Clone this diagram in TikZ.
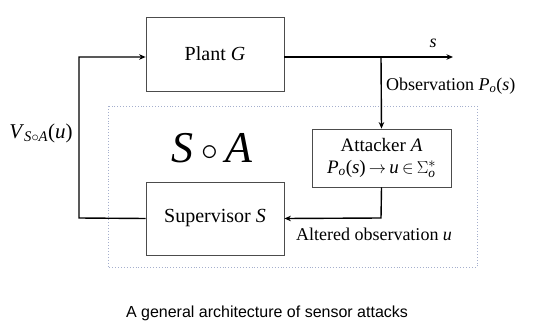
\documentclass[tikz,border=0pt]{standalone}
\usepackage{amsmath}
\usepackage{fontspec}
\setmainfont{Liberation Serif}
\newfontfamily\capfont{Liberation Sans}
\usetikzlibrary{arrows.meta,positioning,calc}
\definecolor{dotblue}{RGB}{165,175,205}
\begin{document}
\begin{tikzpicture}[x=1pt,y=-1pt,
  blockbox/.style={draw=black!70,line width=0.8pt,minimum width=138pt,inner sep=0pt,font=\fontsize{20}{22}\selectfont},
  conn/.style={line width=1.4pt,-{Stealth[length=6.5pt,width=5.5pt]}},
  lab/.style={inner sep=0pt,font=\fontsize{18}{20}\selectfont}]
\useasboundingbox (0,0) rectangle (534,334);
% dotted region
\draw[draw=dotblue,line width=0.9pt,dotted] (108,106) rectangle (477,267);
\node[blockbox,minimum height=74pt] (plant) at (215,54) {Plant \textit{G}};
\node[blockbox,minimum width=139pt,minimum height=58pt,align=center,font=\fontsize{19}{22}\selectfont] (att) at (381.5,158)
  {Attacker \textit{A}\\ \textit{P}$_{\textit{o}}$(\textit{s})\,$\rightarrow$\,\textit{u}\,$\in$\,$\Sigma_{\textit{o}}^{*}$};
\node[blockbox,minimum height=73pt] (sup) at (215,218.5) {Supervisor \textit{S}};
\coordinate (out) at (453,57);
\coordinate (split) at (381,57);
\coordinate (corner1) at (381,218);
\coordinate (fbl) at (79,218);
\coordinate (fbt) at (79,57);
\draw[line width=1.4pt] (plant.east |- out) -- (split);
\draw[conn] (split) -- (out);
\draw[conn] (split) -- (att.north);
\draw[conn] (att.south) -- (corner1) -- (sup.east);
\draw[conn] (sup.west) -- (fbl) -- (fbt) -- (plant.west |- fbt);
\node[lab] (slab) at (433,43) {\textit{s}};
\node[lab,anchor=west] (obs) at (386,86) {Observation \textit{P}$_{\textit{o}}$(\textit{s})};
\node[lab] (alt) at (374,234) {Altered observation \textit{u}};
\node[lab,font=\fontsize{21}{22}\selectfont] (vlab) at (41,133) {\textit{V}$_{\textit{S}\circ\textit{A}}$(\textit{u})};
\node[lab,font=\fontsize{44}{46}\selectfont] (sa) at (212,148) {\textit{S}\,\raisebox{1.5pt}{\scalebox{1.35}{$\circ$}}\,\textit{A}};
\node[inner sep=0pt,font=\capfont\fontsize{16}{18}\selectfont] (cap) at (267,313) {A general architecture of sensor attacks};
\end{tikzpicture}
\end{document}
